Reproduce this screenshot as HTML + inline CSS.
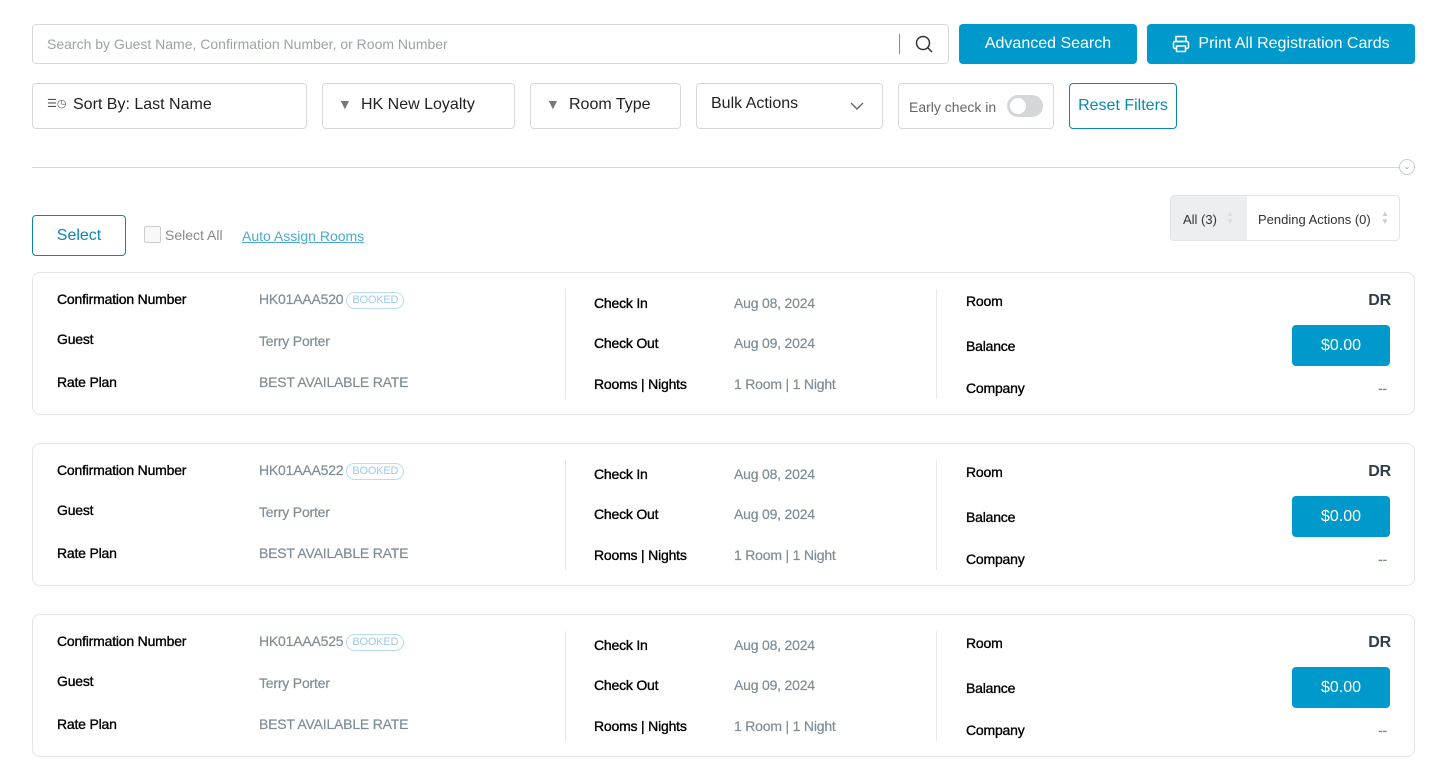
<!DOCTYPE html>
<html><head><meta charset="utf-8"><style>
*{box-sizing:border-box;margin:0;padding:0}
body{width:1445px;height:765px;background:#fff;font-family:"Liberation Sans",sans-serif;position:relative;overflow:hidden;color:#222}
.a{position:absolute;white-space:nowrap}
.box{position:absolute;border:1px solid #d5d9dc;border-radius:4px;background:#fff}
.btn{position:absolute;background:#0099cc;color:#fff;border-radius:4px;font-size:16px;display:flex;align-items:center;justify-content:center}
.card{position:absolute;left:32px;width:1383px;height:143px;border:1px solid #e2e5e7;border-radius:8px}
.card .l{position:absolute;font-size:14px;color:#000;line-height:16px;letter-spacing:-0.2px;-webkit-text-stroke:0.35px #000}
.card .v{position:absolute;font-size:14px;color:#7f8d97;line-height:16px;letter-spacing:-0.2px;-webkit-text-stroke:0.2px #7f8d97}
.card .d{position:absolute;top:16px;width:1px;height:110px;background:#e6e8ea}
.badge{display:inline-block;font-size:11px;color:#9cc9e8;border:1px solid #b9dcf2;border-radius:9px;padding:1px 5px;margin-left:3px;vertical-align:1px;line-height:13px;-webkit-text-stroke:0}
</style></head><body>
<div class="box" style="left:32px;top:24px;width:917px;height:40px"></div>
<div class="a" style="left:47px;top:36px;font-size:14px;color:#9aa3aa">Search by Guest Name, Confirmation Number, or Room Number</div>
<div class="a" style="left:899px;top:34px;width:1px;height:20px;background:#888"></div>
<svg class="a" style="left:914px;top:34px" width="20" height="20"><circle cx="9" cy="9" r="6.5" fill="none" stroke="#333" stroke-width="1.5"/><line x1="14" y1="14" x2="18" y2="18" stroke="#333" stroke-width="1.5"/></svg>
<div class="btn" style="left:959px;top:24px;width:178px;height:40px">Advanced Search</div>
<div class="btn" style="left:1147px;top:24px;width:268px;height:40px"><svg width="18" height="18" style="margin-right:8px"><rect x="4" y="1.5" width="10" height="5" fill="none" stroke="#fff" stroke-width="1.5"/><rect x="1.5" y="6.5" width="15" height="7" rx="1.5" fill="none" stroke="#fff" stroke-width="1.5"/><rect x="4.5" y="11" width="9" height="5.5" fill="#0099cc" stroke="#fff" stroke-width="1.5"/></svg>Print All Registration Cards</div>

<div class="box" style="left:32px;top:83px;width:275px;height:46px"></div>
<div class="a" style="left:47px;top:97px;font-size:11px;color:#555">☰◷</div>
<div class="a" style="left:73px;top:96px;font-size:16px;color:#222">Sort By: Last Name</div>
<div class="box" style="left:322px;top:83px;width:193px;height:46px"></div>
<div class="a" style="left:338px;top:96px;font-size:14px;color:#777">▼</div>
<div class="a" style="left:361px;top:96px;font-size:16px;color:#222">HK New Loyalty</div>
<div class="box" style="left:530px;top:83px;width:151px;height:46px"></div>
<div class="a" style="left:546px;top:96px;font-size:14px;color:#777">▼</div>
<div class="a" style="left:569px;top:96px;font-size:16px;color:#222">Room Type</div>
<div class="box" style="left:696px;top:83px;width:187px;height:46px"></div>
<div class="a" style="left:711px;top:95px;font-size:16px;color:#222">Bulk Actions</div>
<svg class="a" style="left:850px;top:101px" width="14" height="10"><polyline points="1,2 7,8 13,2" fill="none" stroke="#666" stroke-width="1.4"/></svg>
<div class="box" style="left:898px;top:83px;width:156px;height:46px"></div>
<div class="a" style="left:909px;top:99px;font-size:14px;color:#666">Early check in</div>
<div class="a" style="left:1007px;top:95px;width:36px;height:22px;border-radius:11px;background:#d3d7da"></div>
<div class="a" style="left:1010px;top:98px;width:16px;height:16px;border-radius:8px;background:#fff"></div>
<div class="a" style="left:1069px;top:83px;width:108px;height:46px;border:1px solid #0a87b5;border-radius:4px;color:#0a87b5;font-size:16px;display:flex;align-items:center;justify-content:center">Reset Filters</div>

<div class="a" style="left:32px;top:167px;width:1368px;height:1px;background:#d5d9dc"></div>
<div class="a" style="left:1399px;top:159px;width:16px;height:16px;border:1px solid #c5ccd2;border-radius:8px;font-size:8px;color:#7aa;text-align:center;line-height:14px">⌄</div>

<div class="a" style="left:32px;top:215px;width:94px;height:41px;border:1px solid #0a87b5;border-radius:4px;color:#0a87b5;font-size:16px;display:flex;align-items:center;justify-content:center">Select</div>
<div class="a" style="left:144px;top:226px;width:17px;height:17px;border:1px solid #ccc;border-radius:2px;background:#f8f8f8"></div>
<div class="a" style="left:165px;top:227px;font-size:14px;color:#888">Select All</div>
<div class="a" style="left:242px;top:228px;font-size:14px;color:#4aaad0;text-decoration:underline">Auto Assign Rooms</div>

<div class="a" style="left:1170px;top:195px;width:230px;height:46px;border:1px solid #e2e5e7;border-radius:4px;overflow:hidden">
<div style="position:absolute;left:0;top:0;width:76px;height:46px;background:#eceef0"></div>
<div style="position:absolute;left:12px;top:16px;font-size:13px;color:#333">All (3)</div>
<div style="position:absolute;left:55px;top:14px;font-size:8px;color:#ddd;line-height:8px">▲<br>▼</div>
<div style="position:absolute;left:87px;top:16px;font-size:13px;color:#333">Pending Actions (0)</div>
<div style="position:absolute;left:210px;top:14px;font-size:8px;color:#ccc;line-height:8px">▲<br>▼</div>
</div>

<div class="card" style="top:272px">
<div class="l" style="left:24px;top:18px">Confirmation Number</div><div class="v" style="left:226px;top:18px">HK01AAA520<span class="badge">BOOKED</span></div>
<div class="l" style="left:24px;top:58px">Guest</div><div class="v" style="left:226px;top:60px">Terry Porter</div>
<div class="l" style="left:24px;top:101px">Rate Plan</div><div class="v" style="left:226px;top:101px">BEST AVAILABLE RATE</div>
<div class="d" style="left:532px"></div>
<div class="l" style="left:561px;top:22px">Check In</div><div class="v" style="left:701px;top:22px">Aug 08, 2024</div>
<div class="l" style="left:561px;top:62px">Check Out</div><div class="v" style="left:701px;top:62px">Aug 09, 2024</div>
<div class="l" style="left:561px;top:103px">Rooms | Nights</div><div class="v" style="left:701px;top:103px">1 Room | 1 Night</div>
<div class="d" style="left:903px"></div>
<div class="l" style="left:933px;top:20px">Room</div><div class="l" style="right:23px;top:20px;font-size:16px;color:#2e3e4e;font-weight:bold;-webkit-text-stroke:0">DR</div>
<div class="l" style="left:933px;top:65px">Balance</div><div class="btn" style="left:1259px;top:52px;width:98px;height:41px">$0.00</div>
<div class="l" style="left:933px;top:107px">Company</div><div class="v" style="right:27px;top:107px">--</div>
</div>

<div class="card" style="top:443px">
<div class="l" style="left:24px;top:18px">Confirmation Number</div><div class="v" style="left:226px;top:18px">HK01AAA522<span class="badge">BOOKED</span></div>
<div class="l" style="left:24px;top:58px">Guest</div><div class="v" style="left:226px;top:60px">Terry Porter</div>
<div class="l" style="left:24px;top:101px">Rate Plan</div><div class="v" style="left:226px;top:101px">BEST AVAILABLE RATE</div>
<div class="d" style="left:532px"></div>
<div class="l" style="left:561px;top:22px">Check In</div><div class="v" style="left:701px;top:22px">Aug 08, 2024</div>
<div class="l" style="left:561px;top:62px">Check Out</div><div class="v" style="left:701px;top:62px">Aug 09, 2024</div>
<div class="l" style="left:561px;top:103px">Rooms | Nights</div><div class="v" style="left:701px;top:103px">1 Room | 1 Night</div>
<div class="d" style="left:903px"></div>
<div class="l" style="left:933px;top:20px">Room</div><div class="l" style="right:23px;top:20px;font-size:16px;color:#2e3e4e;font-weight:bold;-webkit-text-stroke:0">DR</div>
<div class="l" style="left:933px;top:65px">Balance</div><div class="btn" style="left:1259px;top:52px;width:98px;height:41px">$0.00</div>
<div class="l" style="left:933px;top:107px">Company</div><div class="v" style="right:27px;top:107px">--</div>
</div>

<div class="card" style="top:614px">
<div class="l" style="left:24px;top:18px">Confirmation Number</div><div class="v" style="left:226px;top:18px">HK01AAA525<span class="badge">BOOKED</span></div>
<div class="l" style="left:24px;top:58px">Guest</div><div class="v" style="left:226px;top:60px">Terry Porter</div>
<div class="l" style="left:24px;top:101px">Rate Plan</div><div class="v" style="left:226px;top:101px">BEST AVAILABLE RATE</div>
<div class="d" style="left:532px"></div>
<div class="l" style="left:561px;top:22px">Check In</div><div class="v" style="left:701px;top:22px">Aug 08, 2024</div>
<div class="l" style="left:561px;top:62px">Check Out</div><div class="v" style="left:701px;top:62px">Aug 09, 2024</div>
<div class="l" style="left:561px;top:103px">Rooms | Nights</div><div class="v" style="left:701px;top:103px">1 Room | 1 Night</div>
<div class="d" style="left:903px"></div>
<div class="l" style="left:933px;top:20px">Room</div><div class="l" style="right:23px;top:20px;font-size:16px;color:#2e3e4e;font-weight:bold;-webkit-text-stroke:0">DR</div>
<div class="l" style="left:933px;top:65px">Balance</div><div class="btn" style="left:1259px;top:52px;width:98px;height:41px">$0.00</div>
<div class="l" style="left:933px;top:107px">Company</div><div class="v" style="right:27px;top:107px">--</div>
</div>
</body></html>
